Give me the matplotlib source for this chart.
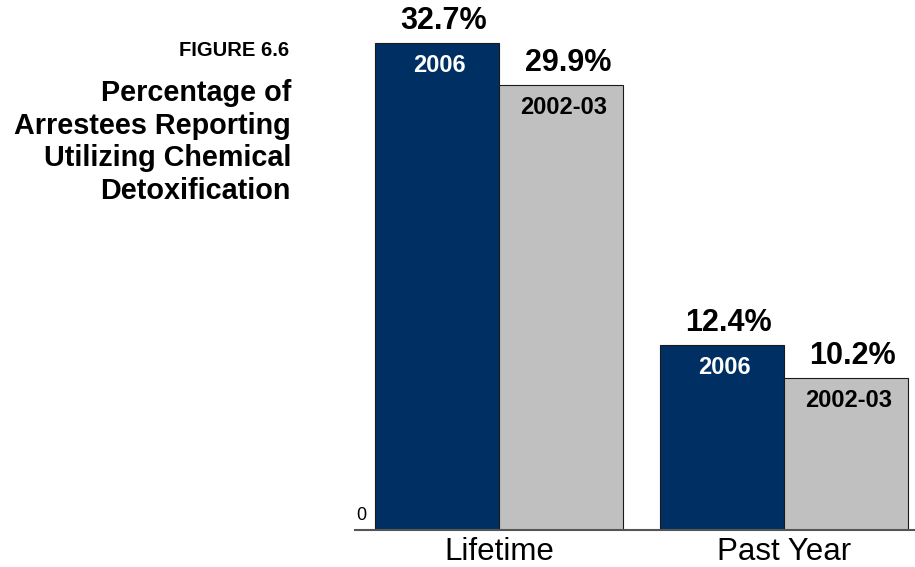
import matplotlib.pyplot as plt
import numpy as np

plt.rcParams['font.family'] = ['Liberation Sans', 'DejaVu Sans']

categories = ['Lifetime', 'Past Year']
series_names = ['2006', '2002-03']
values_2006 = [32.7, 12.4]
values_0203 = [29.9, 10.2]

navy = '#003063'
grey = '#c0c0c0'

fig = plt.figure(figsize=(9.15, 5.67), dpi=100)
ax = fig.add_axes([355 / 915, 37 / 567, 560 / 915, 530 / 567])

x = np.arange(len(categories))
w = 0.435
b1 = ax.bar(x - w / 2, values_2006, w, color=navy, edgecolor='#1a1a1a', linewidth=0.8)
b2 = ax.bar(x + w / 2, values_0203, w, color=grey, edgecolor='#1a1a1a', linewidth=0.8)

ax.set_xlim(-0.505, 1.46)
ax.set_ylim(0, 35.6)

# percentage above each bar, series name just inside the top
for bars, vals, name, tcol in [(b1, values_2006, series_names[0], 'white'),
                               (b2, values_0203, series_names[1], 'black')]:
    for r, v in zip(bars, vals):
        cx = r.get_x() + r.get_width() / 2
        ax.annotate(f'{v:.1f}%', (cx, v), xytext=(5, 5), textcoords='offset points',
                    ha='center', va='bottom', fontsize=22, fontweight='bold')
        ax.annotate(name, (cx, v), xytext=(2, -16), textcoords='offset points',
                    ha='center', va='center', fontsize=17, fontweight='bold', color=tcol)

for s in ['top', 'right', 'left']:
    ax.spines[s].set_visible(False)
ax.spines['bottom'].set_color('#555555')
ax.spines['bottom'].set_linewidth(1.5)
ax.set_yticks([])
ax.set_xticks(x)
ax.set_xticklabels(categories, fontsize=22.5)
ax.tick_params(axis='x', length=0, pad=5)

ax.text(0.002, 0.012, '0', transform=ax.transAxes, ha='left', va='bottom', fontsize=13)

fig.text(289 / 915, 1 - 50 / 567, 'FIGURE 6.6', ha='right', va='center',
         fontsize=14.5, fontweight='bold')
fig.text(291 / 915, 1 - 142 / 567,
         'Percentage of\nArrestees Reporting\nUtilizing Chemical\nDetoxification',
         ha='right', va='center', fontsize=20.7, fontweight='bold', linespacing=1.22)

fig.savefig('out.png', dpi=100)
